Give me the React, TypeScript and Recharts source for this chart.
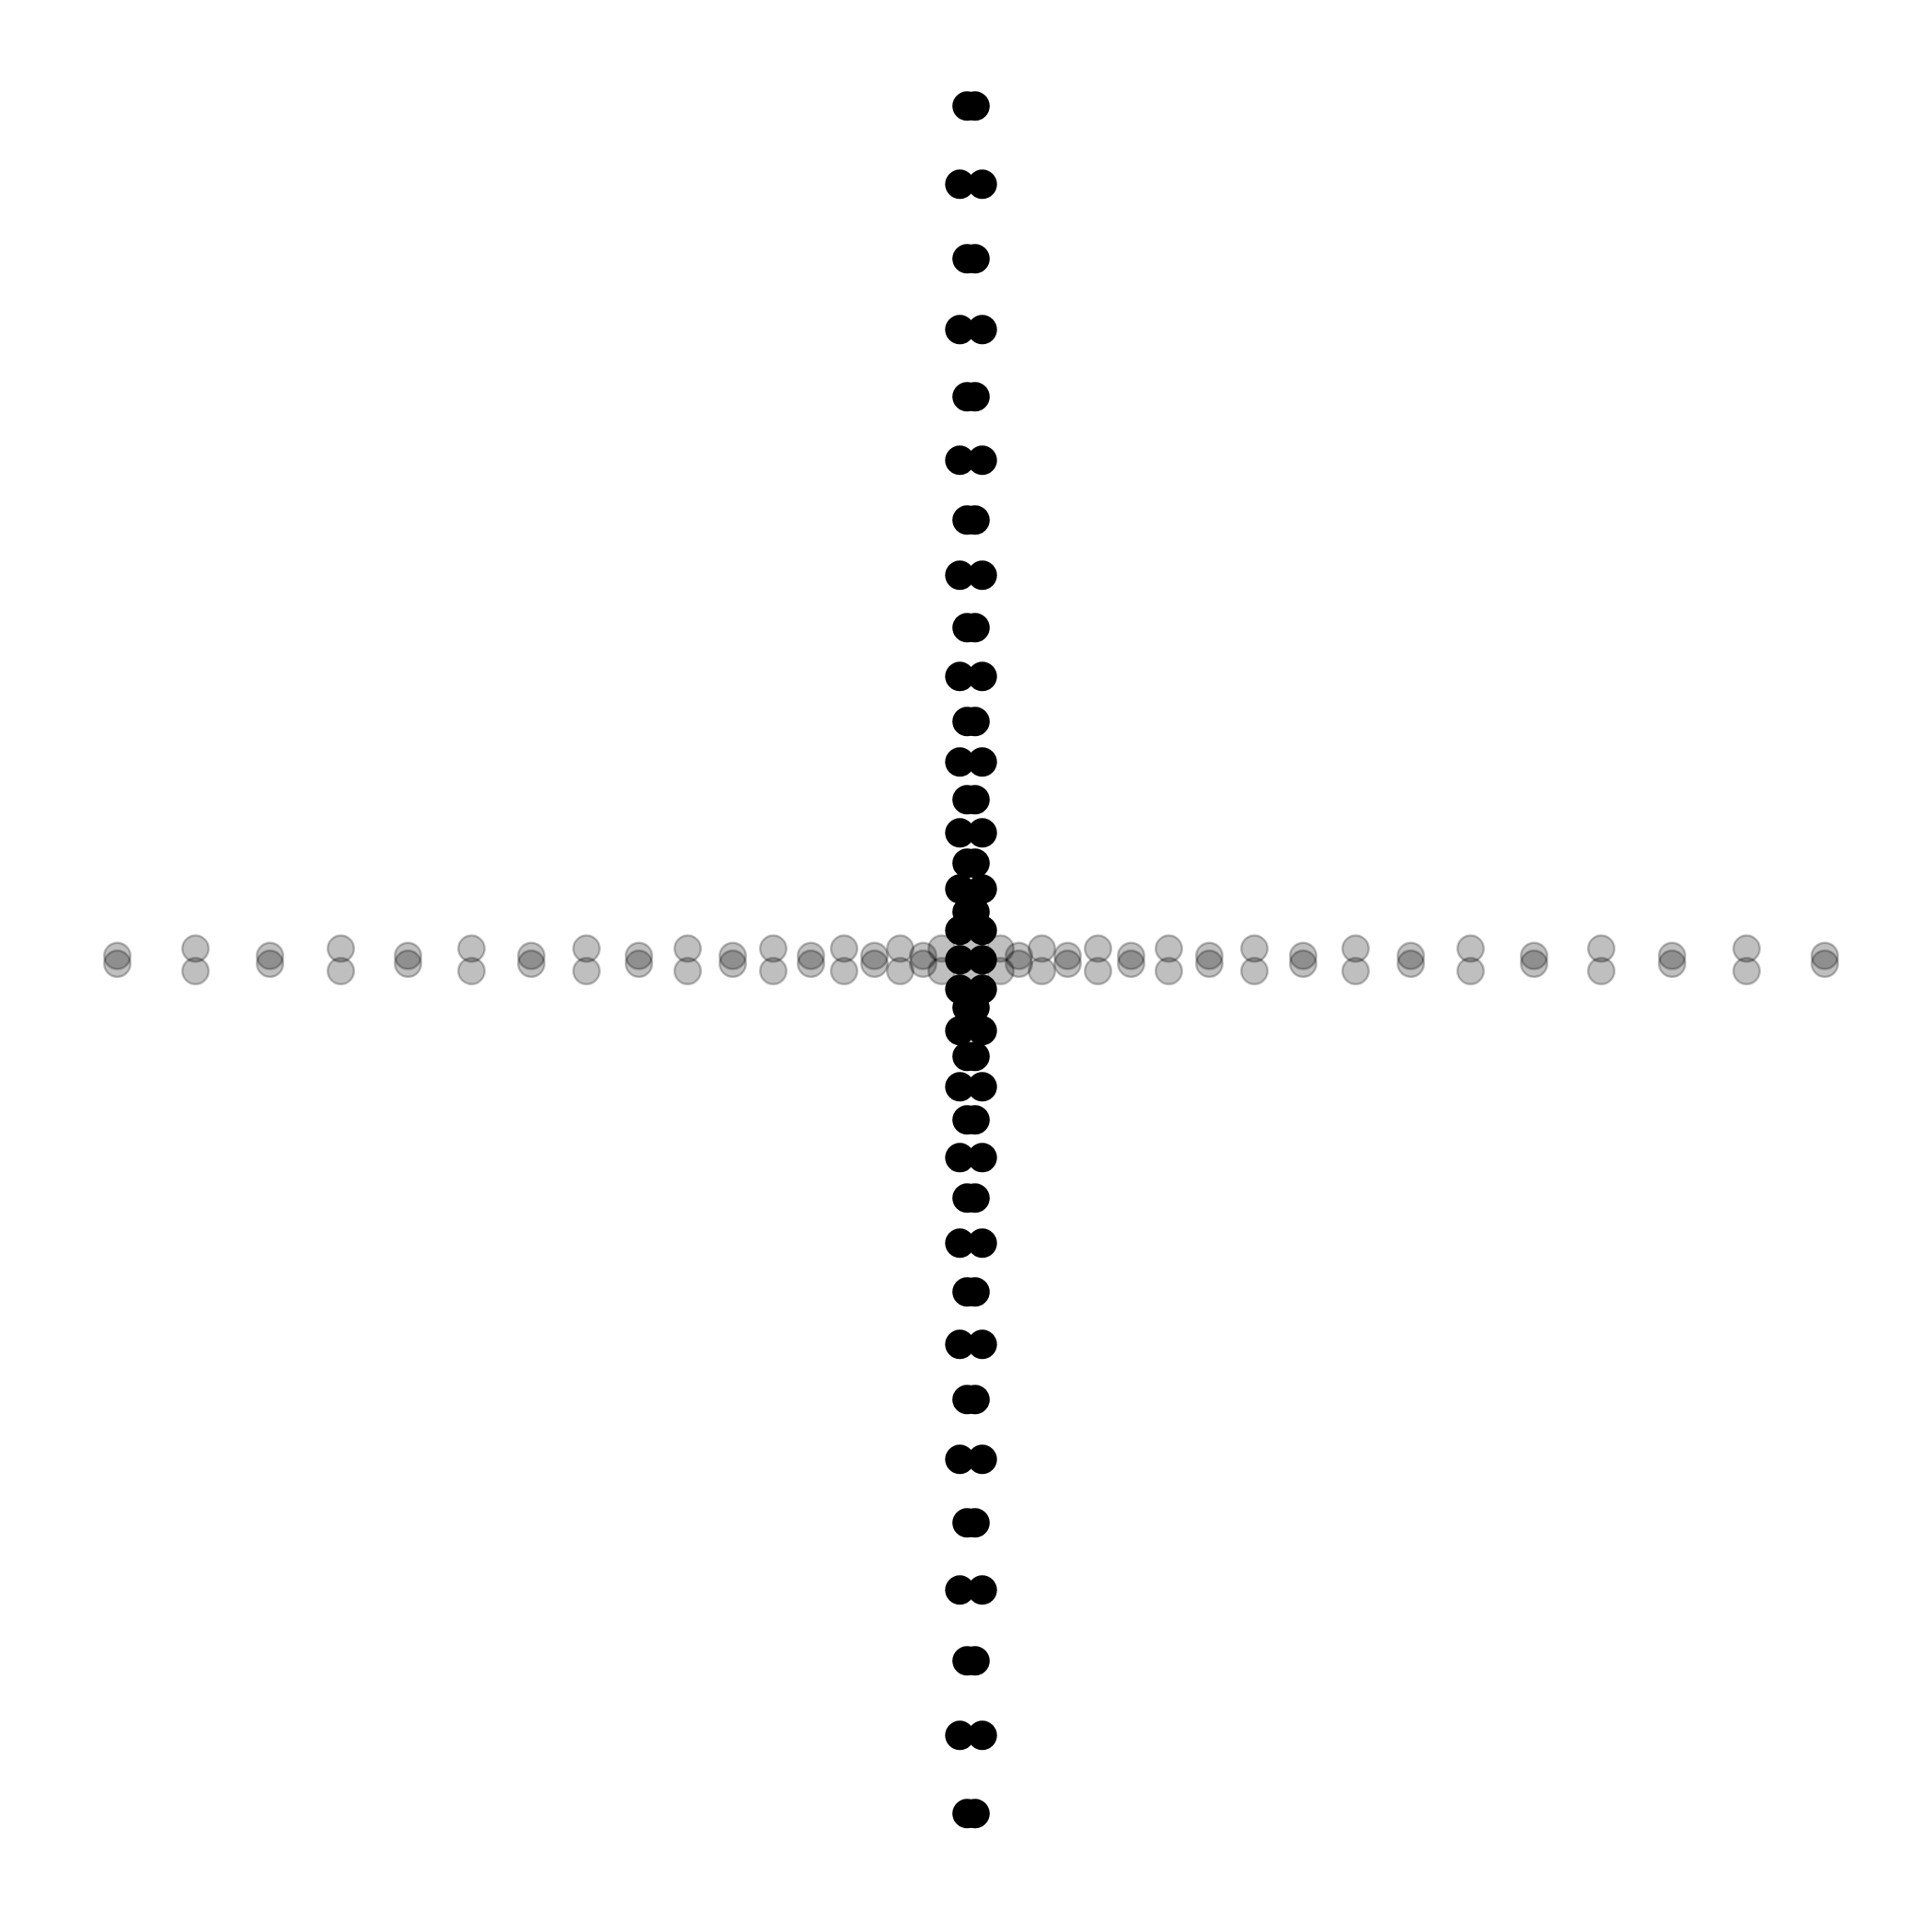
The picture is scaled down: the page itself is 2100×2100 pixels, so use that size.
import { ScatterChart, Scatter, XAxis, YAxis } from "recharts";

// distance of each level from the centre (same for both arms)
const levels = [0, 32, 52, 77, 105, 138, 174, 215, 259, 308, 361, 418, 478, 543, 612, 685, 762, 843, 928];
// sideways spread of the pair at each level: wide / narrow alternate
const spread = [12.2, 12.2, 4.3, 12.2, 4.3, 12.2, 4.3, 12.2, 4.3, 12.2, 4.3, 12.2, 4.3, 12.2, 4.3, 12.2, 4.3, 12.2, 4.3];

const sides = [-1, 1];

// vertical arm (black): value on y, small spread on x
const verticalPts = levels.flatMap((d, i) =>
  sides.flatMap((s) => (d === 0 && s === 1 ? [] : sides.map((t) => ({ x: t * spread[i], y: s * d }))))
);
// horizontal arm (grey): value on x, small spread on y
const horizontalPts = levels.flatMap((d, i) =>
  sides.flatMap((s) => (d === 0 && s === 1 ? [] : sides.map((t) => ({ x: s * d, y: t * spread[i] }))))
);

const BlackDot = (props: any) => <circle cx={props.cx} cy={props.cy} r={16} fill="#000" />;

const GreyDot = (props: any) => (
  <circle
    cx={props.cx}
    cy={props.cy}
    r={14.3}
    fill="#000"
    fillOpacity={0.25}
    stroke="#000"
    strokeOpacity={0.25}
    strokeWidth={2.4}
  />
);

export default function App() {
  return (
    <div style={{ width: 2084, height: 2084, background: "#fff" }}>
      <ScatterChart width={2084} height={2084} margin={{ top: 35.3, right: 36.5, bottom: 48.7, left: 47.5 }}>
        <XAxis type="number" dataKey="x" domain={[-1000, 1000]} hide />
        <YAxis type="number" dataKey="y" domain={[-1000, 1000]} hide />
        <Scatter data={horizontalPts} shape={GreyDot} isAnimationActive={false} />
        <Scatter data={verticalPts} shape={BlackDot} isAnimationActive={false} />
      </ScatterChart>
    </div>
  );
}
